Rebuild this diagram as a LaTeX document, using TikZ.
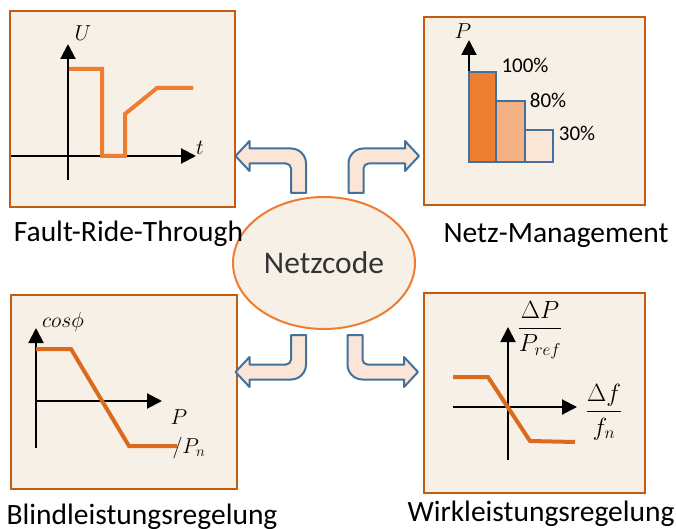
\documentclass[tikz,border=0pt]{standalone}
\usepackage{amsmath}
\usepackage{fontspec}
\setmainfont{Carlito}
\usetikzlibrary{shapes.geometric, arrows.meta, positioning}
\definecolor{boxline}{HTML}{C55A11}
\definecolor{boxfill}{HTML}{F6F0E6}
\definecolor{curveor}{HTML}{ED7D31}
\definecolor{curvedark}{HTML}{DB6A1E}
\definecolor{arrline}{HTML}{41719C}
\definecolor{arrfill}{HTML}{FBE5D6}
\definecolor{barmid}{HTML}{F4B183}
\tikzset{
    panel/.style={rectangle, draw=boxline, fill=boxfill, line width=2.5pt},
    axisline/.style={line width=2pt, -{Triangle[length=15pt,width=15pt]}},
    curveline/.style={line width=4pt, line join=miter},
    barbox/.style={draw=arrline, line width=2.5pt},
    caption/.style={font=\fontsize{29.5}{33}\selectfont, inner sep=0pt},
    mathlbl/.style={font=\fontsize{17}{20}\selectfont, inner sep=0pt, scale=1.25},
    fraclbl/.style={font=\fontsize{23}{27}\selectfont, inner sep=0pt},
    pctlbl/.style={font=\fontsize{21}{25}\selectfont, inner sep=0pt},
    bendarr/.pic={
        \draw[draw=arrline, fill=arrfill, line width=2pt, line join=round]
          (-7.5pt,0pt) -- (-7.5pt,29.5pt) arc[start angle=180, end angle=90, radius=15pt]
          -- (49pt,44.5pt) -- (49pt,52pt) -- (63pt,37pt) -- (49pt,22pt) -- (49pt,29.5pt)
          -- (12.5pt,29.5pt) arc[start angle=90, end angle=180, radius=5pt] -- (7.5pt,0pt) -- cycle;
    },
}
\begin{document}
\begin{tikzpicture}[x=1pt,y=1pt]
\useasboundingbox (0,0) rectangle (676,-529);

% the four panels
\node[panel, minimum width=225pt, minimum height=196pt] (ftrbox) at (122.5,-109) {};
\node[panel, minimum width=221pt, minimum height=188pt] (nmbox) at (534.5,-111) {};
\node[panel, minimum width=226pt, minimum height=194pt] (blrbox) at (124,-392) {};
\node[panel, minimum width=221pt, minimum height=200pt] (wlrbox) at (534.5,-393) {};

% centre
\node[ellipse, draw=curveor, fill=boxfill, line width=2pt, minimum width=182pt, minimum height=132pt,
      font=\fontsize{31.5}{35}\selectfont, text=black!80] (netzcode) at (324,-263) {Netzcode};

\pic[xscale=-1] at ([xshift=-25.5pt,yshift=3pt]netzcode.north) {bendarr};
\pic at ([xshift=32pt,yshift=3pt]netzcode.north) {bendarr};
\pic[xscale=-1,yscale=-1] at ([xshift=-25.5pt,yshift=-5pt]netzcode.south) {bendarr};
\pic[yscale=-1] at ([xshift=31pt,yshift=-5pt]netzcode.south) {bendarr};

% Fault-Ride-Through
\draw[axisline] (68,-180) -- (68,-44);
\draw[axisline] (11,-156) -- (196,-156);
\node[mathlbl] (ulbl) at (83,-33) {$U$};
\node[mathlbl] (tlbl) at (200,-148) {$t$};
\draw[curveline, curveor] (69,-69) -- (102,-69) -- (102,-156) -- (125,-156) -- (125,-114) -- (157,-88) -- (193,-88);
\node[caption] (ftrlbl) at (128.5,-234) {Fault-Ride-Through};

% Netz-Management
\draw[axisline] (469,-72) -- (469,-40);
\node[mathlbl] (plbl) at (463,-31) {$P$};
\draw[barbox, fill=curveor] (469,-162) rectangle (496,-72);
\draw[barbox, fill=barmid] (496,-162) rectangle (525,-101);
\draw[barbox, fill=arrfill] (525,-162) rectangle (553,-130);
\node[pctlbl] (p100) at (525,-65) {100\%};
\node[pctlbl] (p80) at (548,-100) {80\%};
\node[pctlbl] (p30) at (577,-133) {30\%};
\node[caption] (nmlbl) at (556,-236) {Netz-Management};

% Blindleistungsregelung
\draw[axisline] (36,-448) -- (36,-328);
\draw[axisline] (36,-401) -- (162,-401);
\node[mathlbl] (cosphi) at (63,-322) {$cos\phi$};
\node[mathlbl] (pnum) at (179,-417) {$P$};
\node[mathlbl] (pden) at (189,-448) {$/P_n$};
\draw[curveline, curvedark] (36,-349) -- (71,-349) -- (129,-446) -- (177,-446);
\node[caption] (blrlbl) at (142,-517) {Blindleistungsregelung};

% Wirkleistungsregelung
\draw[axisline] (508,-460) -- (508,-327);
\draw[axisline] (453,-407) -- (577,-407);
\node[fraclbl] (dpfrac) at (540,-330) {$\dfrac{\Delta P}{P_{ref}}$};
\node[fraclbl] (dffrac) at (604,-412) {$\dfrac{\Delta f}{f_n}$};
\draw[curveline, curvedark] (453,-377) -- (488,-377) -- (530,-441) -- (575,-442);
\node[caption] (wlrlbl) at (541,-514) {Wirkleistungsregelung};
\end{tikzpicture}
\end{document}
